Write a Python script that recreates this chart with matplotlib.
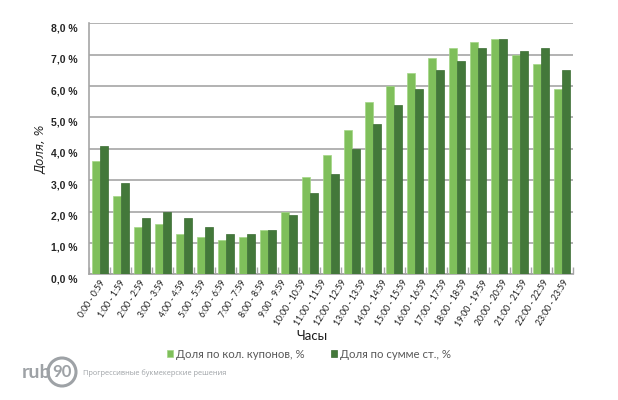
import numpy as np
import matplotlib
matplotlib.use("Agg")
from matplotlib import pyplot as plt
from matplotlib.patches import Circle

# hour labels (24) and values (23 bar groups are drawn)
hours = ["0:00 - 0:59", "1:00 - 1:59", "2:00 - 2:59", "3:00 - 3:59", "4:00 - 4:59",
         "5:00 - 5:59", "6:00 - 6:59", "7:00 - 7:59", "8:00 - 8:59", "9:00 - 9:59",
         "10:00 - 10:59", "11:00 - 11:59", "12:00 - 12:59", "13:00 - 13:59",
         "14:00 - 14:59", "15:00 - 15:59", "16:00 - 16:59", "17:00 - 17:59",
         "18:00 - 18:59", "19:00 - 19:59", "20:00 - 20:59", "21:00 - 21:59",
         "22:00 - 22:59", "23:00 - 23:59"]
coupons = [3.6, 2.5, 1.5, 1.6, 1.3, 1.2, 1.1, 1.2, 1.4, 2.0, 3.1, 3.8, 4.6, 5.5,
           6.0, 6.4, 6.9, 7.2, 7.4, 7.5, 7.0, 6.7, 5.9]
stakes = [4.1, 2.9, 1.8, 2.0, 1.8, 1.5, 1.3, 1.3, 1.4, 1.9, 2.6, 3.2, 4.0, 4.8,
          5.4, 5.9, 6.5, 6.8, 7.2, 7.5, 7.1, 7.2, 6.5]
yticks = [0, 1, 2, 3, 4, 5, 6, 7, 8]

light = "#7fbf5b"
dark = "#43783a"
grid = "#a6a6a6"
logo = "#9ea2a6"

fig = plt.figure(figsize=(6.18, 4.0), dpi=100)
ax = fig.add_axes([0.144, 0.314, 0.783, 0.628])

x = np.arange(len(coupons))
w = 0.38
ax.bar(x - w / 2, coupons, width=w, color=light, edgecolor="#a3d686", linewidth=0.5,
       label="Доля по кол. купонов, %", zorder=3)
ax.bar(x + w / 2, stakes, width=w, color=dark, edgecolor="#3b6c33", linewidth=0.5,
       label="Доля по сумме ст., %", zorder=3)

ax.set_xlim(-0.5, len(coupons) - 0.5)
ax.set_ylim(0, 8)
ax.set_yticks(yticks)
ax.set_yticklabels([("%.1f %%" % v).replace(".", ",") for v in yticks],
                   fontsize=7.5, fontweight="bold", family="Liberation Sans",
                   color="#262626", va="top")
ax.tick_params(axis="y", length=0, pad=8)
ax.yaxis.grid(True, color=grid, linewidth=1.2, zorder=0)

# labels spread evenly over the groups, as in the picture
ax.set_xticks(np.linspace(0, len(coupons) - 1, len(hours)))
ax.set_xticklabels(hours, rotation=58, ha="right", rotation_mode="anchor",
                   fontsize=6.2, color="#1a1a1a", family="Lato")
ax.tick_params(axis="x", length=0, pad=3)
ax.set_xticks(np.arange(-0.5, len(coupons)), minor=True)
ax.tick_params(axis="x", which="minor", direction="in", length=5, color=grid, width=1)

for s in ["top", "right"]:
    ax.spines[s].set_visible(False)
ax.spines["left"].set_color(grid)
ax.spines["bottom"].set_color(grid)
ax.spines["left"].set_linewidth(1.2)
ax.spines["bottom"].set_linewidth(1.2)

ax.set_ylabel("Доля, %", fontsize=8.5, style="italic", color="#262626")
ax.yaxis.set_label_coords(-0.085, 0.5)
fig.text(0.505, 0.16, "Часы", fontsize=9.5, family="Lato", color="#1a1a1a",
         ha="center", va="center")

fig.legend(loc="center", bbox_to_anchor=(0.5, 0.115), ncol=2, frameon=False,
           handlelength=0.5, handleheight=0.5, handletextpad=0.3,
           columnspacing=2.3, labelcolor="#595959", prop={"family": "Lato", "size": 8.2})

# logo
fig.text(0.035, 0.068, "rub", fontsize=14, fontweight="bold", color=logo,
         ha="left", va="center", family="Lato")
fig.patches.append(Circle((0.62, 0.28), 0.14, transform=fig.dpi_scale_trans,
                          fill=False, edgecolor=logo, linewidth=2.2))
fig.text(0.1005, 0.07, "90", fontsize=12, fontweight="bold", color=logo,
         ha="center", va="center", family="Lato")
fig.text(0.134, 0.068, "Прогрессивные букмекерские решения", fontsize=5.3,
         color=logo, ha="left", va="center", family="Open Sans")

fig.savefig("out.png", dpi=100)
